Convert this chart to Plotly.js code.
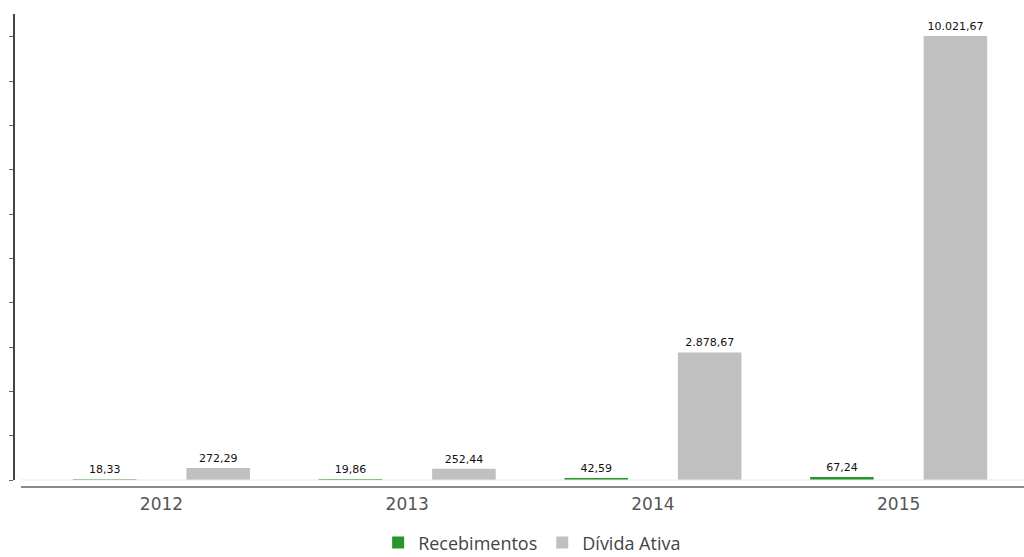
<!DOCTYPE html>
<html>
<head>
<meta charset="utf-8">
<script src="https://cdn.plot.ly/plotly-3.0.1.min.js"></script>
<style>html,body{margin:0;padding:0;background:#fff;}#chart{width:1024px;height:557px;}</style>
</head>
<body>
<div id="chart"></div>
<script>
const categories = ['2012', '2013', '2014', '2015'];
const recebimentos = [18.33, 19.86, 42.59, 67.24];
const dividaAtiva = [272.29, 252.44, 2878.67, 10021.67];
const seriesNames = ['Recebimentos', 'Dívida Ativa'];

function fmt(v) {
  const parts = v.toFixed(2).split('.');
  const intPart = parts[0].replace(/\B(?=(\d{3})+(?!\d))/g, '.');
  return intPart + ',' + parts[1];
}

const labelFont = {family: 'DejaVu Sans', size: 11, color: '#111'};

const traces = [
  {
    type: 'bar', name: seriesNames[0], x: categories, y: recebimentos,
    marker: {color: '#2a962a', line: {width: 0}},
    text: recebimentos.map(fmt), textposition: 'outside', textfont: labelFont,
    constraintext: 'none', cliponaxis: false, hoverinfo: 'none'
  },
  {
    type: 'bar', name: seriesNames[1], x: categories, y: dividaAtiva,
    marker: {color: '#c0c0c0', line: {width: 0}},
    text: dividaAtiva.map(fmt), textposition: 'outside', textfont: labelFont,
    constraintext: 'none', cliponaxis: false, hoverinfo: 'none'
  }
];

const yTop = 10519;
const layout = {
  width: 1024, height: 557,
  margin: {l: 14, r: 0, t: 14, b: 70, autoexpand: false},
  paper_bgcolor: '#fff', plot_bgcolor: '#fff',
  barmode: 'group', bargap: 0.0765, bargroupgap: 0.44,
  xaxis: {
    type: 'category', range: [-0.6, 3.51], automargin: false,
    showline: false, showgrid: false, zeroline: false, ticks: '',
    ticklabelstandoff: 5,
    tickfont: {family: 'DejaVu Sans', size: 17, color: '#555'}
  },
  yaxis: {
    range: [-158, yTop], tick0: 0, dtick: 1000, automargin: false,
    showticklabels: false, showgrid: false, zeroline: false, showline: false,
    ticks: 'outside', ticklen: 4, tickcolor: '#666', tickwidth: 1
  },
  shapes: [
    {type: 'line', xref: 'paper', yref: 'y', x0: 0.00693, x1: 1, y0: 0, y1: 0,
     line: {color: '#e8e8e8', width: 1}},
    {type: 'line', xref: 'paper', yref: 'paper', x0: 0.00693, x1: 1, y0: 0, y1: 0,
     line: {color: '#8a8a8a', width: 2}},
    {type: 'line', xref: 'paper', yref: 'y', x0: 0, x1: 0, y0: 0, y1: yTop,
     line: {color: '#444', width: 2}}
  ],
  showlegend: true,
  legend: {
    orientation: 'h', x: 0.513, xanchor: 'center', y: -0.118, yanchor: 'middle',
    font: {family: 'Open Sans', size: 18, color: '#444'},
    itemwidth: 30, itemsizing: 'constant', traceorder: 'normal'
  },
  hovermode: false
};

Plotly.newPlot('chart', traces, layout, {displayModeBar: false, staticPlot: true});
</script>
</body>
</html>
